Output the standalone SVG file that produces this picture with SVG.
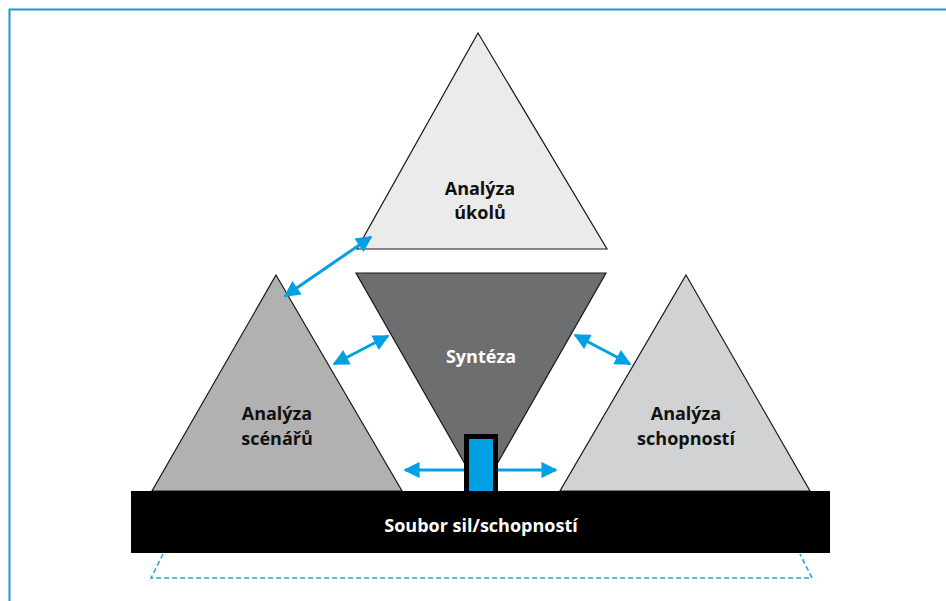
<svg xmlns="http://www.w3.org/2000/svg" width="946" height="601" viewBox="0 0 946 601">
<defs>
<style>
.tri{stroke:#1a1a1a;stroke-width:1.2;stroke-linejoin:miter}
.lbl{font-family:"Open Sans","Liberation Sans",sans-serif;font-weight:bold;font-size:18px;text-anchor:middle}
.conn{stroke:#00a0e3;stroke-width:3;fill:none;marker-start:url(#ah);marker-end:url(#ah)}
.one{stroke:#00a0e3;stroke-width:3;fill:none;marker-end:url(#ah)}
</style>
<marker id="ah" viewBox="0 0 10 10" refX="9" refY="5" markerWidth="6" markerHeight="5.4" orient="auto-start-reverse" markerUnits="strokeWidth">
<path d="M0,0 L10,5 L0,10 Z" fill="#00a0e3"/>
</marker>
</defs>
<rect x="0" y="0" width="946" height="601" fill="#ffffff"/>
<path d="M9.5,601 V9.5 H946" fill="none" stroke="#1b9ad6" stroke-width="2"/>
<g id="ukoly">
<polygon class="tri" points="478,33 607,249 357,249" fill="#ebebeb"/>
<text class="lbl" x="480" y="195" fill="#111">Analýza</text>
<text class="lbl" x="480" y="219" fill="#111">úkolů</text>
</g>
<g id="synteza">
<polygon class="tri" points="356,273 606,273 481,492" fill="#6d6e70"/>
<text class="lbl" x="481" y="363" fill="#ffffff">Syntéza</text>
</g>
<g id="scenare">
<polygon class="tri" points="276,275 402,491 152,491" fill="#b1b1b1"/>
<text class="lbl" x="277" y="420" fill="#111">Analýza</text>
<text class="lbl" x="277" y="445" fill="#111">scénářů</text>
</g>
<g id="schopnosti">
<polygon class="tri" points="686,275 810,491 560,491" fill="#d1d2d3"/>
<text class="lbl" x="686" y="420" fill="#111">Analýza</text>
<text class="lbl" x="686" y="445" fill="#111">schopností</text>
</g>
<g id="soubor">
<rect x="131" y="491" width="699" height="62" fill="#000000"/>
<text class="lbl" x="481" y="532" fill="#ffffff">Soubor sil/schopností</text>
</g>
<g id="spoj">
<rect x="466.5" y="436.5" width="29" height="57" fill="#00a0e3" stroke="#000" stroke-width="5"/>
</g>
<g id="connectors">
<line class="conn" x1="285" y1="296" x2="371" y2="237"/>
<line class="conn" x1="334" y1="364" x2="388" y2="336"/>
<line class="conn" x1="575" y1="335" x2="630" y2="364"/>
<line class="one" x1="464" y1="470" x2="405" y2="470"/>
<line class="one" x1="498" y1="470" x2="556" y2="470"/>
<path d="M163,554 L151,578 H812 L800,554" fill="none" stroke="#1ba3dd" stroke-width="1.5" stroke-dasharray="5,3"/>
</g>
</svg>
